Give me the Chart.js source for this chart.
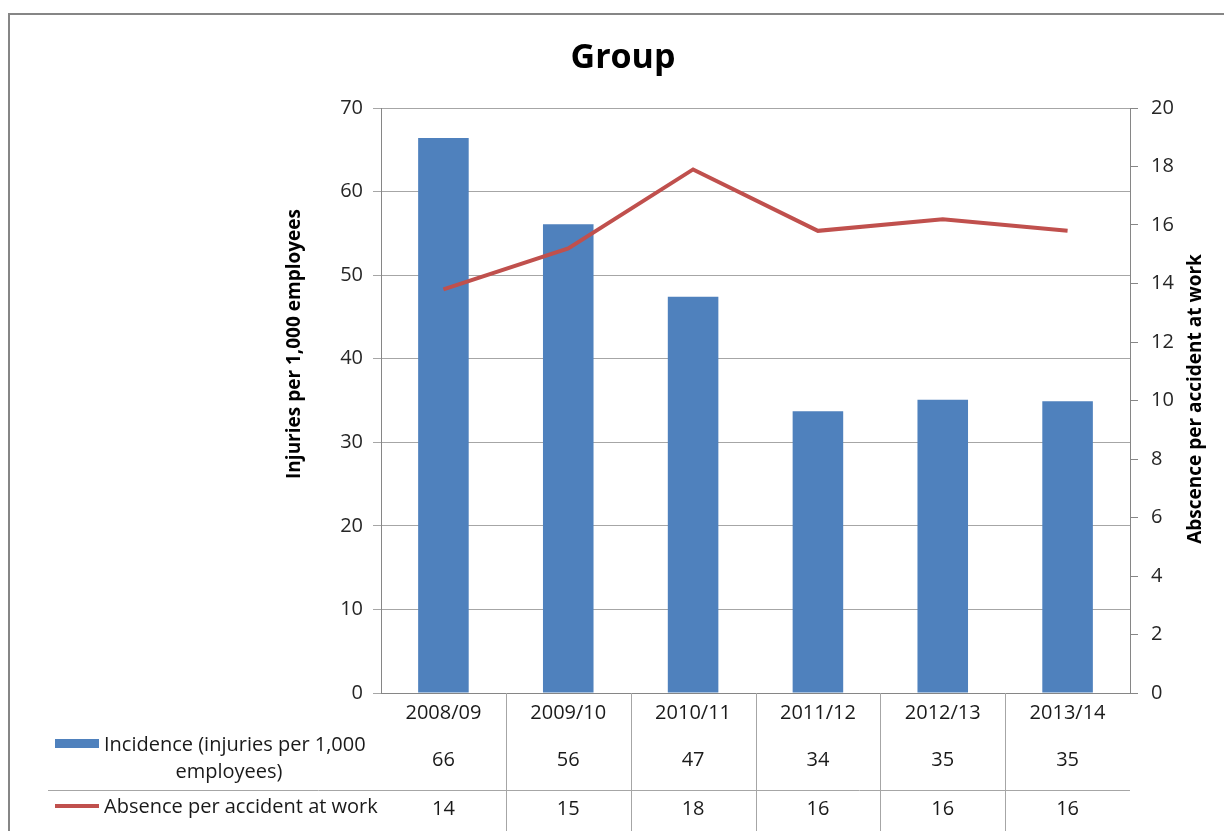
<!DOCTYPE html>
<html>
<head>
<meta charset="utf-8">
<title>Group</title>
<script src="https://cdn.jsdelivr.net/npm/chart.js@4.4.0/dist/chart.umd.min.js"></script>
<style>
  body { margin: 0; background: #fff; }
  #wrap { width: 1224px; height: 831px; }
</style>
</head>
<body>
<div id="wrap"><canvas id="myChart"></canvas></div>
<script>
const years = ["2008/09", "2009/10", "2010/11", "2011/12", "2012/13", "2013/14"];
const incidence = [66.4, 56.1, 47.4, 33.7, 35.1, 34.9];
const absence = [13.8, 15.2, 17.9, 15.8, 16.2, 15.8];

const incidenceLabel = ["Incidence (injuries per 1,000", "employees)"];
const absenceLabel = "Absence per accident at work";
const leftTitle = "Injuries per 1,000 employees";
const rightTitle = "Abscence per accident at work";

const FONT = '"Open Sans", "DejaVu Sans", sans-serif';
const BLUE = "#4F81BD";
const RED = "#C0504D";
const AXIS = "#868686";

// frame, title, axis titles and the data table under the plot
const tablePlugin = {
  id: "tablePlugin",
  afterDraw(chart) {
    const ctx = chart.ctx;
    const area = chart.chartArea;
    const x = chart.scales.x;
    const colW = (area.right - area.left) / years.length;

    ctx.save();
    ctx.strokeStyle = AXIS;
    ctx.lineWidth = 2;
    ctx.beginPath();
    ctx.moveTo(9, chart.height);
    ctx.lineTo(9, 14);
    ctx.lineTo(chart.width, 14);
    ctx.stroke();

    ctx.fillStyle = "#000";
    ctx.textAlign = "center";
    ctx.textBaseline = "middle";
    ctx.font = "bold 34px " + FONT;
    ctx.fillText("Group", 623, 58);

    ctx.font = "bold 19px " + FONT;
    ctx.save();
    ctx.translate(295, 344);
    ctx.rotate(-Math.PI / 2);
    ctx.fillText(leftTitle, 0, 0);
    ctx.restore();
    ctx.save();
    ctx.translate(1196, 399);
    ctx.rotate(-Math.PI / 2);
    ctx.fillText(rightTitle, 0, 0);
    ctx.restore();

    // table lines
    ctx.strokeStyle = "#a6a6a6";
    ctx.lineWidth = 1;
    ctx.beginPath();
    for (let i = 1; i < years.length; i++) {
      const bx = Math.round(area.left + i * colW) + 0.5;
      ctx.moveTo(bx, area.bottom);
      ctx.lineTo(bx, chart.height);
    }
    ctx.moveTo(48, 790.5);
    ctx.lineTo(area.right, 790.5);
    ctx.stroke();

    // table text
    ctx.fillStyle = "#1a1a1a";
    ctx.font = "20px " + FONT;
    years.forEach((yr, i) => {
      const cx = x.getPixelForValue(i);
      ctx.fillText(yr, cx, 713);
      ctx.fillText(String(Math.round(incidence[i])), cx, 760);
      ctx.fillText(String(Math.round(absence[i])), cx, 809);
    });

    // legend keys
    ctx.fillStyle = BLUE;
    ctx.fillRect(55, 739, 44, 9);
    ctx.strokeStyle = RED;
    ctx.lineWidth = 4;
    ctx.beginPath();
    ctx.moveTo(55, 806);
    ctx.lineTo(99, 806);
    ctx.stroke();

    ctx.fillStyle = "#1a1a1a";
    ctx.textAlign = "left";
    ctx.fillText(incidenceLabel[0], 104, 745);
    ctx.fillText(absenceLabel, 104, 807);
    ctx.textAlign = "center";
    ctx.fillText(incidenceLabel[1], 229, 772);
    ctx.restore();
  }
};

const ctx1 = document.getElementById("myChart");
new Chart(ctx1, {
  data: {
    labels: years,
    datasets: [
      {
        type: "line",
        label: absenceLabel,
        data: absence,
        yAxisID: "y1",
        borderColor: RED,
        borderWidth: 4,
        pointRadius: 0,
        tension: 0,
        order: 0,
      },
      {
        type: "bar",
        label: incidenceLabel.join(" "),
        data: incidence,
        yAxisID: "y",
        backgroundColor: BLUE,
        categoryPercentage: 1,
        barPercentage: 0.405,
        order: 1,
      },
    ],
  },
  options: {
    responsive: true,
    maintainAspectRatio: false,
    animation: false,
    layout: { padding: { top: 108, left: 0, right: 0, bottom: 0 } },
    plugins: {
      legend: { display: false },
      tooltip: { enabled: false },
    },
    scales: {
      x: {
        offset: true,
        grid: { display: false },
        ticks: { display: false },
        border: { display: true, color: AXIS },
        afterFit(s) { s.height = 138; },
      },
      y: {
        position: "left",
        min: 0,
        max: 70,
        ticks: { stepSize: 10, padding: 10, color: "#262626", font: { family: FONT, size: 20 } },
        grid: { color: "#a6a6a6", tickLength: 8, drawTicks: true },
        border: { color: AXIS },
        afterFit(s) { s.width = 381; },
      },
      y1: {
        position: "right",
        min: 0,
        max: 20,
        ticks: { stepSize: 2, padding: 13, color: "#262626", font: { family: FONT, size: 20 } },
        grid: { drawOnChartArea: false, tickLength: 8, color: AXIS },
        border: { color: AXIS },
        afterFit(s) { s.width = 94; },
      },
    },
  },
  plugins: [tablePlugin],
});
</script>
</body>
</html>
